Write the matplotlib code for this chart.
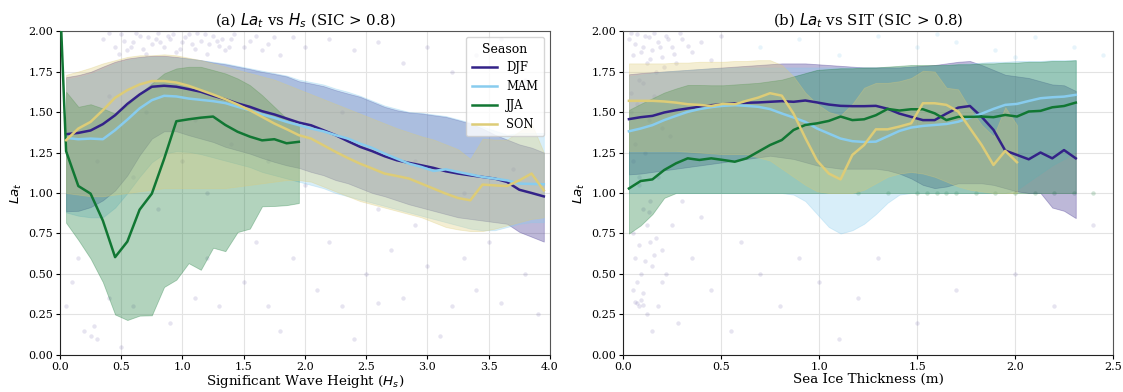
import matplotlib
matplotlib.use("Agg")
import matplotlib.pyplot as plt

plt.rcParams['font.family'] = ['DejaVu Serif']
plt.rcParams['mathtext.fontset'] = 'dejavusans'

seasons = ["DJF", "MAM", "JJA", "SON"]
colors = {"DJF": "#332288", "MAM": "#88CCEE", "JJA": "#117733", "SON": "#DDCC77"}

# ---------------- panel (a): La_t vs Hs ----------------
a_x = [0.05, 0.15, 0.25, 0.35, 0.45, 0.55, 0.65, 0.75, 0.85, 0.95,
       1.05, 1.15, 1.25, 1.35, 1.45, 1.55, 1.65, 1.75, 1.85, 1.95,
       2.05, 2.15, 2.25, 2.35, 2.45, 2.55, 2.65, 2.75, 2.85, 2.95,
       3.05, 3.15, 3.25, 3.35, 3.45, 3.55, 3.65, 3.75, 3.85, 3.95]
a_djf = [1.363, 1.371, 1.386, 1.425, 1.48, 1.55, 1.608, 1.656, 1.662, 1.656,
         1.641, 1.625, 1.60, 1.579, 1.553, 1.532, 1.505, 1.485, 1.46, 1.435,
         1.418, 1.388, 1.357, 1.32, 1.285, 1.258, 1.227, 1.202, 1.186, 1.171,
         1.155, 1.134, 1.12, 1.109, 1.099, 1.089, 1.068, 1.02, 1.0, 0.979]
a_mam = [1.34, 1.332, 1.336, 1.332, 1.388, 1.453, 1.522, 1.573, 1.60, 1.596,
         1.583, 1.575, 1.567, 1.555, 1.532, 1.511, 1.485, 1.464, 1.439, 1.419,
         1.398, 1.381, 1.357, 1.336, 1.305, 1.278, 1.243, 1.212, 1.181, 1.161,
         1.136, 1.146, 1.13, 1.115, 1.099, 1.089, 1.078, 1.058, 1.056, 1.054]
a_son = [1.326, 1.398, 1.439, 1.511, 1.588, 1.635, 1.67, 1.691, 1.691, 1.682,
         1.662, 1.635, 1.608, 1.579, 1.546, 1.511, 1.47, 1.429, 1.394, 1.357,
         1.336, 1.295, 1.254, 1.216, 1.181, 1.151, 1.12, 1.105, 1.089, 1.058,
         1.027, 0.996, 0.969, 0.955, 1.052, 1.047, 1.043, 1.078, 1.12, 1.016]
a_jja_x = [0.0, 0.05, 0.15, 0.25, 0.35, 0.45, 0.55, 0.65, 0.75, 0.85, 0.95,
           1.05, 1.15, 1.25, 1.35, 1.45, 1.55, 1.65, 1.75, 1.85, 1.95]
a_jja = [2.2, 1.258, 1.043, 0.996, 0.83, 0.604, 0.70, 0.897, 0.996, 1.21, 1.443,
         1.455, 1.465, 1.472, 1.42, 1.378, 1.348, 1.325, 1.332, 1.307, 1.316]

a_djf_lo = [0.887, 0.89, 0.913, 0.955, 1.016, 1.109, 1.233, 1.336, 1.381, 1.381,
            1.357, 1.336, 1.315, 1.285, 1.264, 1.243, 1.216, 1.192, 1.171, 1.155,
            1.13, 1.11, 1.08, 1.06, 1.03, 1.0, 0.98, 0.955, 0.93, 0.91,
            0.89, 0.87, 0.85, 0.84, 0.83, 0.82, 0.81, 0.76, 0.73, 0.70]
a_djf_hi = [1.715, 1.728, 1.748, 1.78, 1.81, 1.83, 1.84, 1.847, 1.847, 1.84,
            1.83, 1.82, 1.806, 1.795, 1.78, 1.765, 1.748, 1.735, 1.72, 1.69,
            1.676, 1.66, 1.635, 1.614, 1.594, 1.563, 1.532, 1.511, 1.497, 1.491,
            1.48, 1.47, 1.45, 1.429, 1.398, 1.36, 1.33, 1.30, 1.28, 1.25]
a_mam_lo = [0.88, 0.86, 0.85, 0.85, 0.91, 1.0, 1.1, 1.19, 1.243, 1.258,
            1.254, 1.24, 1.22, 1.20, 1.18, 1.16, 1.13, 1.11, 1.09, 1.07,
            1.05, 1.03, 1.0, 0.98, 0.96, 0.94, 0.92, 0.90, 0.88, 0.86,
            0.84, 0.82, 0.80, 0.78, 0.77, 0.77, 0.79, 0.81, 0.82, 0.82]
a_mam_hi = [1.70, 1.715, 1.735, 1.765, 1.80, 1.82, 1.835, 1.84, 1.84, 1.835,
            1.83, 1.82, 1.81, 1.80, 1.785, 1.77, 1.755, 1.74, 1.725, 1.70,
            1.685, 1.67, 1.645, 1.625, 1.60, 1.57, 1.54, 1.52, 1.50, 1.495,
            1.485, 1.475, 1.455, 1.435, 1.41, 1.385, 1.36, 1.37, 1.37, 1.37]
a_son_lo = [1.0, 0.99, 0.98, 0.98, 0.99, 1.0, 1.01, 1.02, 1.03, 1.03,
            1.03, 1.03, 1.03, 1.03, 1.04, 1.05, 1.06, 1.07, 1.08, 1.08,
            1.07, 1.04, 1.01, 0.98, 0.95, 0.93, 0.91, 0.89, 0.87, 0.85,
            0.82, 0.79, 0.775, 0.765, 0.765, 0.78, 0.80, 0.82, 0.84, 0.85]
a_son_hi = [1.73, 1.75, 1.773, 1.80, 1.82, 1.84, 1.85, 1.85, 1.856, 1.85,
            1.835, 1.82, 1.80, 1.78, 1.76, 1.74, 1.72, 1.70, 1.67, 1.64,
            1.61, 1.58, 1.55, 1.52, 1.49, 1.46, 1.43, 1.40, 1.375, 1.35,
            1.33, 1.30, 1.27, 1.21, 1.335, 1.33, 1.33, 1.38, 1.43, 1.25]
a_jja_lo = [0.816, 0.71, 0.595, 0.45, 0.25, 0.216, 0.243, 0.245, 0.42, 0.465,
            0.567, 0.526, 0.662, 0.641, 0.759, 0.78, 0.918, 0.92, 0.925, 0.938]
a_jja_hi = [1.625, 1.532, 1.548, 1.522, 1.49, 1.542, 1.614, 1.676, 1.738, 1.769,
            1.779, 1.779, 1.759, 1.738, 1.707, 1.666, 1.604, 1.532, 1.46, 1.418]

# scattered observations (panel a), mostly DJF
a_pts_x = [0.35, 0.45, 0.5, 0.55, 0.6, 0.65, 0.7, 0.75, 0.8, 0.85, 0.9, 0.95, 1.0, 1.05,
           1.1, 1.15, 1.2, 1.25, 1.3, 1.35, 1.4, 1.5, 1.6, 1.7, 1.8, 1.9, 2.0, 2.2, 2.4,
           2.6, 2.8, 3.0, 3.2, 3.4, 3.6, 3.8,
           0.4, 0.52, 0.62, 0.72, 0.82, 0.92, 1.02, 1.12, 1.22, 1.32, 1.42, 1.55, 0.58,
           0.68, 0.78, 0.88, 0.98, 1.08, 1.18, 1.28, 0.48, 1.38, 1.65, 1.75,
           0.1, 0.15, 0.2, 0.25, 0.28, 0.3, 0.4, 0.6, 0.9, 1.1, 1.3, 1.5, 1.7, 1.9, 2.1,
           2.3, 2.5, 2.6, 2.8, 3.0, 3.2, 3.4, 3.6, 3.8, 3.9, 2.2, 2.7, 3.3, 1.8, 2.4, 3.1,
           0.5, 1.2, 1.6, 2.9, 3.5, 0.05,
           0.3, 0.6, 0.8, 1.0, 1.2, 1.4, 0.4, 1.7, 2.3, 2.9, 3.3, 0.7, 1.1, 2.0, 2.6, 3.7]
a_pts_y = [1.95, 1.9, 1.98, 1.88, 1.93, 1.97, 1.86, 1.92, 1.99, 1.9, 1.95, 1.87, 1.93, 1.98,
           1.89, 1.94, 1.86, 1.97, 1.91, 1.88, 1.95, 1.9, 1.97, 1.92, 1.85, 1.96, 1.9, 1.95, 1.88,
           1.93, 1.8, 1.9, 1.75, 1.85, 1.95, 1.7,
           1.99, 1.94, 1.99, 1.96, 1.93, 1.98, 1.96, 1.99, 1.92, 1.95, 1.98, 1.94, 1.9,
           1.89, 1.95, 1.97, 1.89, 1.92, 1.98, 1.94, 1.86, 1.9, 1.88, 1.96,
           0.45, 0.6, 0.15, 0.12, 0.18, 0.1, 0.35, 0.3, 0.2, 0.35, 0.3, 0.45, 0.3, 0.6, 0.4,
           0.3, 0.5, 0.32, 0.35, 0.55, 0.3, 0.4, 0.32, 0.5, 0.25, 0.7, 0.65, 0.6, 0.15, 0.1, 0.12,
           0.05, 0.6, 0.7, 0.8, 0.7, 0.3,
           1.2, 1.1, 0.9, 1.2, 1.0, 1.3, 1.6, 1.2, 1.5, 1.2, 1.0, 1.5, 1.45, 1.05, 0.9, 1.15]

# ---------------- panel (b): La_t vs SIT ----------------
b_x = [0.03, 0.09, 0.15, 0.21, 0.27, 0.33, 0.39, 0.45, 0.51, 0.57,
       0.63, 0.69, 0.75, 0.81, 0.87, 0.93, 0.99, 1.05, 1.11, 1.17,
       1.23, 1.29, 1.35, 1.41, 1.47, 1.53, 1.59, 1.65, 1.71, 1.77,
       1.83, 1.89, 1.95, 2.01, 2.07, 2.13, 2.19, 2.25, 2.31]
b_djf = [1.456, 1.468, 1.476, 1.497, 1.511, 1.522, 1.532, 1.542, 1.548, 1.553,
         1.557, 1.559, 1.563, 1.567, 1.563, 1.571, 1.559, 1.546, 1.538, 1.536,
         1.536, 1.538, 1.52, 1.49, 1.47, 1.45, 1.45, 1.49, 1.527, 1.537,
         1.47, 1.39, 1.262, 1.235, 1.208, 1.25, 1.214, 1.265, 1.214]
b_mam = [1.381, 1.398, 1.419, 1.45, 1.476, 1.501, 1.518, 1.53, 1.538, 1.542,
         1.538, 1.532, 1.518, 1.491, 1.466, 1.439, 1.398, 1.367, 1.336, 1.32,
         1.315, 1.317, 1.35, 1.383, 1.404, 1.414, 1.42, 1.426, 1.44, 1.465,
         1.49, 1.519, 1.544, 1.55, 1.568, 1.585, 1.591, 1.595, 1.606]
b_jja = [1.028, 1.074, 1.084, 1.142, 1.183, 1.214, 1.204, 1.214, 1.204, 1.193,
         1.214, 1.255, 1.296, 1.327, 1.389, 1.42, 1.43, 1.445, 1.472, 1.45,
         1.455, 1.48, 1.519, 1.509, 1.517, 1.517, 1.492, 1.45, 1.47, 1.47,
         1.472, 1.468, 1.482, 1.472, 1.503, 1.507, 1.529, 1.537, 1.558]
b_son = [1.569, 1.569, 1.569, 1.565, 1.558, 1.548, 1.544, 1.537, 1.55, 1.548,
         1.569, 1.589, 1.616, 1.601, 1.49, 1.34, 1.2, 1.12, 1.084, 1.235,
         1.296, 1.393, 1.393, 1.41, 1.43, 1.554, 1.554, 1.544, 1.503, 1.40,
         1.296, 1.173, 1.26, 1.19]

b_djf_lo = [1.115, 1.12, 1.13, 1.14, 1.15, 1.16, 1.17, 1.18, 1.19, 1.20,
            1.21, 1.22, 1.23, 1.22, 1.21, 1.19, 1.17, 1.16, 1.15, 1.15,
            1.15, 1.15, 1.14, 1.12, 1.09, 1.05, 1.03, 1.04, 1.06, 1.06,
            1.06, 1.05, 1.03, 1.01, 1.0, 1.0, 0.91, 0.89, 0.845]
b_djf_hi = [1.733, 1.74, 1.745, 1.75, 1.755, 1.76, 1.765, 1.77, 1.775, 1.78,
            1.785, 1.79, 1.795, 1.80, 1.80, 1.80, 1.795, 1.79, 1.785, 1.78,
            1.775, 1.775, 1.775, 1.775, 1.78, 1.785, 1.79, 1.80, 1.81, 1.815,
            1.79, 1.76, 1.73, 1.72, 1.71, 1.69, 1.67, 1.665, 1.63]
b_mam_lo = [1.0, 1.0, 1.0, 1.0, 1.0, 1.0, 1.0, 1.0, 1.0, 1.0,
            1.0, 1.0, 1.0, 1.0, 0.99, 0.95, 0.87, 0.79, 0.75, 0.77,
            0.81, 0.87, 0.94, 0.99, 1.0, 1.0, 1.0, 1.0, 1.0, 1.0,
            1.0, 1.0, 1.0, 1.02, 1.07, 1.12, 1.17, 1.21, 1.255]
b_mam_hi = [1.72, 1.73, 1.74, 1.75, 1.755, 1.76, 1.765, 1.77, 1.77, 1.775,
            1.775, 1.775, 1.775, 1.775, 1.775, 1.775, 1.775, 1.775, 1.775, 1.775,
            1.775, 1.775, 1.775, 1.775, 1.78, 1.78, 1.785, 1.79, 1.795, 1.80,
            1.805, 1.81, 1.81, 1.815, 1.815, 1.815, 1.82, 1.82, 1.82]
b_jja_lo = [0.75, 0.80, 0.87, 0.97, 1.0, 1.0, 1.0, 1.0, 1.0, 1.0,
            1.0, 1.0, 1.0, 1.0, 1.0, 1.0, 1.0, 1.0, 1.0, 1.0,
            1.0, 1.0, 1.0, 1.0, 1.0, 1.0, 1.0, 1.0, 1.0, 1.0,
            1.0, 1.0, 1.0, 1.0, 1.0, 1.0, 1.0, 1.0, 1.0]
b_jja_hi = [1.513, 1.55, 1.585, 1.62, 1.645, 1.667, 1.667, 1.665, 1.665, 1.67,
            1.675, 1.68, 1.69, 1.70, 1.72, 1.74, 1.76, 1.765, 1.77, 1.77,
            1.775, 1.775, 1.78, 1.785, 1.79, 1.79, 1.79, 1.79, 1.795, 1.795,
            1.80, 1.80, 1.805, 1.805, 1.81, 1.81, 1.815, 1.815, 1.82]
b_son_lo = [1.26, 1.26, 1.26, 1.26, 1.26, 1.255, 1.25, 1.245, 1.24, 1.24,
            1.24, 1.22, 1.2, 1.15, 1.10, 1.05, 1.01, 1.0, 1.0, 1.0,
            1.02, 1.06, 1.10, 1.12, 1.13, 1.12, 1.10, 1.07, 1.04, 1.02,
            1.01, 1.0, 1.0, 1.0]
b_son_hi = [1.80, 1.80, 1.80, 1.80, 1.805, 1.805, 1.81, 1.81, 1.81, 1.815,
            1.815, 1.82, 1.82, 1.79, 1.72, 1.62, 1.55, 1.50, 1.48, 1.55,
            1.65, 1.68, 1.68, 1.69, 1.71, 1.755, 1.75, 1.65, 1.64, 1.52,
            1.42, 1.35, 1.53, 1.42]

# scattered observations (panel b)
b_pts_djf_x = [0.03, 0.05, 0.07, 0.08, 0.1, 0.12, 0.13, 0.15, 0.17, 0.18, 0.2, 0.22, 0.25,
               0.27, 0.3, 0.35, 0.4, 0.45, 0.5,
               0.04, 0.06, 0.09, 0.11, 0.14, 0.16, 0.19, 0.21, 0.23, 0.26, 0.29, 0.33,
               0.04, 0.07, 0.1, 0.13, 0.16, 0.2, 0.24, 0.05, 0.08, 0.11, 0.14, 0.18,
               0.04, 0.06, 0.08, 0.1, 0.12, 0.14, 0.06, 0.09, 0.15, 0.2, 0.25, 0.3, 0.05,
               0.07, 0.08, 0.09, 0.1, 0.06, 0.12, 0.18, 0.2, 0.35, 0.4, 0.28, 0.15, 0.45,
               0.05, 0.08, 0.11, 0.13, 0.17, 0.22, 0.07, 0.1, 0.16,
               0.6, 0.7, 0.8, 0.9, 1.0, 1.2, 1.3, 1.5, 1.7, 2.0, 2.2, 2.4, 0.55, 1.1]
b_pts_djf_y = [1.95, 1.85, 1.98, 1.7, 1.9, 1.8, 1.96, 1.88, 1.75, 1.93, 1.84, 1.97, 1.9,
               1.8, 1.95, 1.87, 1.93, 1.82, 1.97,
               1.99, 1.92, 1.87, 1.97, 1.83, 1.99, 1.9, 1.78, 1.95, 1.86, 1.99, 1.91,
               1.62, 1.55, 1.68, 1.45, 1.6, 1.4, 1.35, 1.2, 1.05, 1.25, 0.95, 1.1,
               1.5, 1.3, 1.1, 0.9, 0.8, 0.7, 0.6, 0.5, 0.55, 0.65, 0.8, 0.95, 0.4,
               0.32, 0.3, 0.34, 0.31, 0.33, 0.25, 0.3, 0.45, 0.6, 0.85, 0.2, 0.15, 0.4,
               0.75, 0.68, 0.58, 0.88, 0.72, 0.5, 0.45, 0.38, 0.62,
               0.7, 0.5, 0.3, 0.6, 0.45, 0.35, 0.6, 0.2, 0.4, 0.5, 0.3, 0.8, 0.15, 0.1]
b_pts_mam_x = [0.7, 0.9, 1.1, 1.3, 1.5, 1.7, 1.9, 2.1, 2.3, 2.45, 1.6, 2.0]
b_pts_mam_y = [1.9, 1.95, 1.85, 1.97, 1.9, 1.93, 1.88, 1.96, 1.9, 1.85, 1.98, 1.84]
b_pts_jja_x = [1.2, 1.35, 1.5, 1.55, 1.6, 1.65, 1.7, 1.8, 1.9, 2.0, 2.1, 2.2, 2.3, 2.4]
b_pts_jja_y = [1.0, 1.0, 1.0, 1.0, 1.0, 1.0, 1.0, 1.0, 1.0, 1.0, 1.0, 1.0, 1.0, 1.0]

fig = plt.figure(figsize=(11.23, 3.92), dpi=100)
ax1 = fig.add_axes([0.0534, 0.0944, 0.4363, 0.8265])
ax2 = fig.add_axes([0.5548, 0.0944, 0.4363, 0.8265])

def style(ax):
    ax.set_ylim(0, 2.0)
    ax.set_yticks([0, 0.25, 0.5, 0.75, 1.0, 1.25, 1.5, 1.75, 2.0])
    ax.grid(True, color="#e3e3e3", linewidth=0.8)
    ax.set_axisbelow(True)
    for s in ["top", "right"]:
        ax.spines[s].set_color("#555555")
    for s in ["left", "bottom"]:
        ax.spines[s].set_color("#222222")
    ax.tick_params(axis="both", labelsize=8, length=3, direction="out", pad=2,
                   top=False, right=False)
    ax.set_ylabel(r"$La_t$", fontsize=9.7, labelpad=3)

# panel a
ax1.scatter(a_pts_x, a_pts_y, s=10, color=colors["DJF"], alpha=0.12, linewidths=0, zorder=1)
bands_a = {"DJF": (a_x, a_djf_lo, a_djf_hi), "MAM": (a_x, a_mam_lo, a_mam_hi),
           "JJA": (a_x[:20], a_jja_lo, a_jja_hi), "SON": (a_x, a_son_lo, a_son_hi)}
for s in seasons:
    xx, lo, hi = bands_a[s]
    ax1.fill_between(xx, lo, hi, color=colors[s], alpha=0.32, linewidth=0.6, zorder=2)
lines_a = {"DJF": (a_x, a_djf), "MAM": (a_x, a_mam), "JJA": (a_jja_x, a_jja), "SON": (a_x, a_son)}
for s in seasons:
    xx, yy = lines_a[s]
    ax1.plot(xx, yy, color=colors[s], lw=1.8, label=s, zorder=3)
ax1.set_xlim(0, 4.0)
style(ax1)
ax1.set_xlabel(r"Significant Wave Height ($H_s$)", fontsize=9.7, labelpad=1)
ax1.set_title(r"(a) $La_t$ vs $H_s$ (SIC > 0.8)", fontsize=10.8, pad=4)
leg = ax1.legend(title="Season", loc="upper right", fontsize=8.3, title_fontsize=9,
                 handlelength=2.2, framealpha=0.8, borderpad=0.5, labelspacing=0.5)

# panel b
ax2.scatter(b_pts_djf_x, b_pts_djf_y, s=10, color=colors["DJF"], alpha=0.12, linewidths=0, zorder=1)
ax2.scatter(b_pts_mam_x, b_pts_mam_y, s=10, color=colors["MAM"], alpha=0.2, linewidths=0, zorder=1)
ax2.scatter(b_pts_jja_x, b_pts_jja_y, s=10, color=colors["JJA"], alpha=0.2, linewidths=0, zorder=1)
bands_b = {"DJF": (b_x, b_djf_lo, b_djf_hi), "MAM": (b_x, b_mam_lo, b_mam_hi),
           "JJA": (b_x, b_jja_lo, b_jja_hi), "SON": (b_x[:34], b_son_lo, b_son_hi)}
for s in seasons:
    xx, lo, hi = bands_b[s]
    ax2.fill_between(xx, lo, hi, color=colors[s], alpha=0.32, linewidth=0.6, zorder=2)
lines_b = {"DJF": (b_x, b_djf), "MAM": (b_x, b_mam), "JJA": (b_x, b_jja), "SON": (b_x[:34], b_son)}
for s in seasons:
    xx, yy = lines_b[s]
    ax2.plot(xx, yy, color=colors[s], lw=1.8, zorder=3)
ax2.set_xlim(0, 2.5)
style(ax2)
ax2.set_xlabel("Sea Ice Thickness (m)", fontsize=9.7, labelpad=1)
ax2.set_title(r"(b) $La_t$ vs SIT (SIC > 0.8)", fontsize=10.8, pad=4)

fig.savefig("out.png", dpi=100)
